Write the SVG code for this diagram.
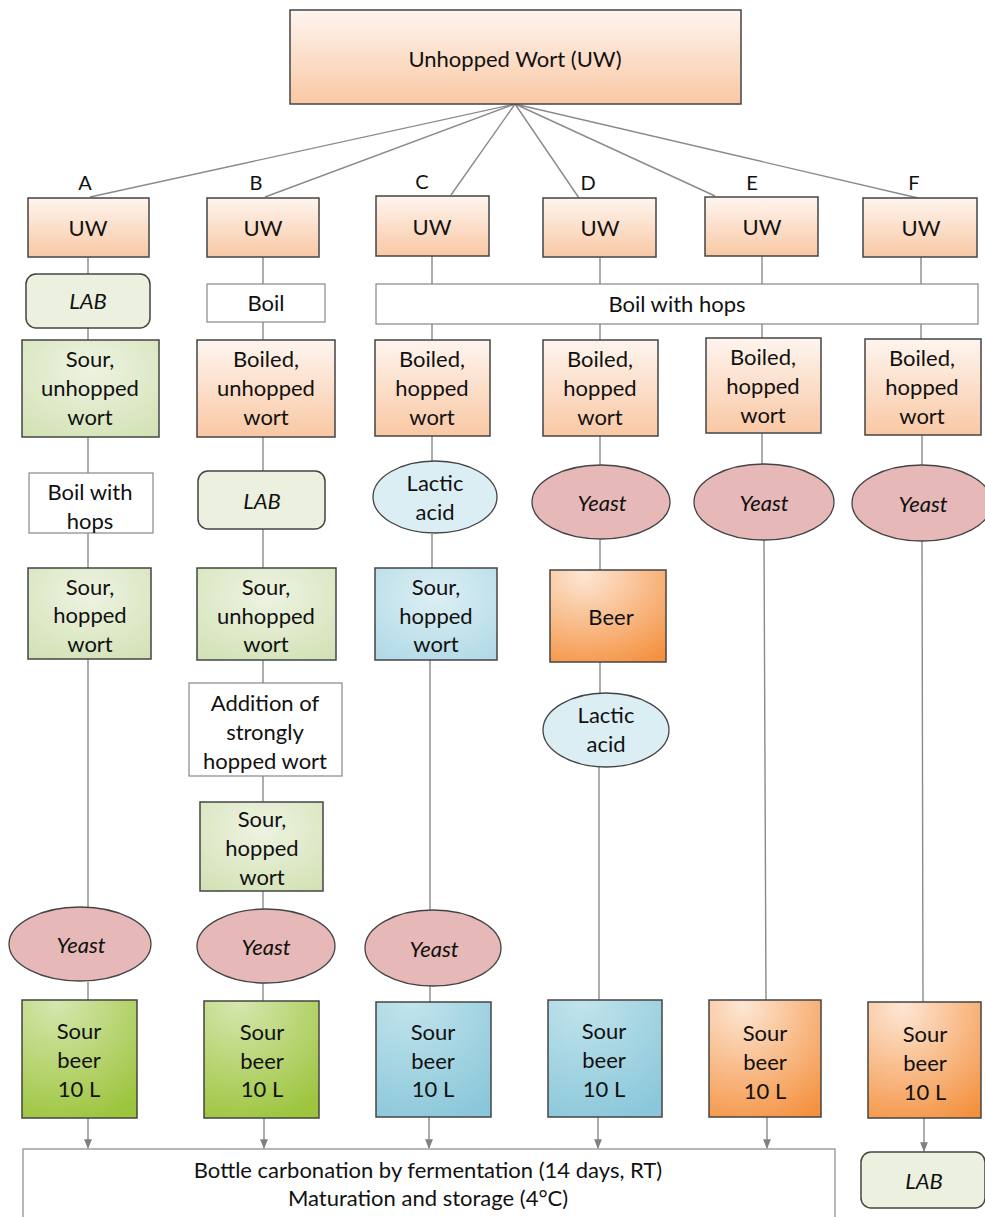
<svg xmlns="http://www.w3.org/2000/svg" width="985" height="1217" viewBox="0 0 985 1217">
<defs>
<linearGradient id="gOr" x1="0" y1="0" x2="0" y2="1"><stop offset="0" stop-color="#fef5ef"/><stop offset="1" stop-color="#f9c8a4"/></linearGradient>
<radialGradient id="gOrS" cx="0.3" cy="0.05" r="1.1"><stop offset="0" stop-color="#fde6d4"/><stop offset="1" stop-color="#f4913f"/></radialGradient>
<radialGradient id="gGrL" cx="0.5" cy="0.3" r="0.8"><stop offset="0" stop-color="#eef3e2"/><stop offset="1" stop-color="#d3e2b6"/></radialGradient>
<radialGradient id="gGrS" cx="0.3" cy="0" r="1.1"><stop offset="0" stop-color="#d6e7b0"/><stop offset="1" stop-color="#9cc43c"/></radialGradient>
<radialGradient id="gBlL" cx="0.5" cy="0.3" r="0.8"><stop offset="0" stop-color="#ddeff4"/><stop offset="1" stop-color="#b1dae6"/></radialGradient>
<radialGradient id="gBlS" cx="0.3" cy="0" r="1.1"><stop offset="0" stop-color="#c2e4ec"/><stop offset="1" stop-color="#8ac7da"/></radialGradient>
<marker id="arr" viewBox="0 0 10 10" refX="9" refY="5" markerWidth="7" markerHeight="7" orient="auto"><path d="M0,1 L10,5 L0,9 z" fill="#808080"/></marker>
<style>
text{font-family:Lato,"Liberation Sans",sans-serif;font-size:22px;fill:#111;text-anchor:middle}
.i{font-style:italic}
.lb{font-size:20px}
.box{stroke:#444;stroke-width:1.5}
.wb{fill:#fff;stroke:#888;stroke-width:1.2}
.or{fill:url(#gOr)}
.ors{fill:url(#gOrS)}
.grl{fill:url(#gGrL)}
.grs{fill:url(#gGrS)}
.bll{fill:url(#gBlL)}
.bls{fill:url(#gBlS)}
.lab{fill:#ebf1de;stroke:#444;stroke-width:1.5}
.ye{fill:#e6b8b7;stroke:#444;stroke-width:1.3}
.la{fill:#dbeef4;stroke:#444;stroke-width:1.3}
.c{stroke:#8a8a8a;stroke-width:1.4;fill:none}
</style>
</defs>
<rect width="985" height="1217" fill="#fff"/>

<g id="connectors">
<path class="c" d="M515,104 L90,197 M515,104 L265,197 M515,104 L451,195 M515,104 L579,198 M515,104 L715,196 M515,104 L918,198"/>
<path class="c" d="M88,257 V274 M88,328 V340 M88,437 V473 M88,533 V568 M88,659 V907 M88,982 V1000"/>
<path class="c" d="M263,257 V284 M263,322 V340 M263,437 V471 M263,529 V568 M263,660 V683 M263,776 V802 M263,891 V909 M263,983 V1001"/>
<path class="c" d="M432,256 V284 M432,324 V340 M432,436 V461 M432,534 V568 M430,660 V911 M430,986 V1002"/>
<path class="c" d="M600,257 V284 M600,324 V340 M600,436 V465 M600,540 V570 M600,662 V693 M599,766 V1000"/>
<path class="c" d="M762,256 V284 M762,324 V338 M762,433 V464 M764,540 L766,1000"/>
<path class="c" d="M921,257 V284 M921,324 V339 M922,435 V465 M922,541 L923,1002"/>
<path class="c" marker-end="url(#arr)" d="M88,1118 V1148"/>
<path class="c" marker-end="url(#arr)" d="M264,1118 V1148"/>
<path class="c" marker-end="url(#arr)" d="M429,1117 V1148"/>
<path class="c" marker-end="url(#arr)" d="M598,1117 V1148"/>
<path class="c" marker-end="url(#arr)" d="M767,1117 V1148"/>
<path class="c" marker-end="url(#arr)" d="M924,1118 V1151"/>
</g>

<g id="top"><rect class="box or" x="290" y="10" width="451" height="94"/><text x="515" y="67">Unhopped Wort (UW)</text></g>

<g id="labels">
<text class="lb" x="85" y="190">A</text><text class="lb" x="256" y="190">B</text><text class="lb" x="422" y="189">C</text>
<text class="lb" x="588" y="190">D</text><text class="lb" x="752" y="190">E</text><text class="lb" x="914" y="190">F</text>
</g>

<g id="uwA"><rect class="box or" x="28" y="198" width="121" height="59"/><text x="88" y="236">UW</text></g>
<g id="uwB"><rect class="box or" x="207" y="198" width="112" height="59"/><text x="263" y="236">UW</text></g>
<g id="uwC"><rect class="box or" x="376" y="196" width="113" height="60"/><text x="432" y="235">UW</text></g>
<g id="uwD"><rect class="box or" x="543" y="198" width="113" height="59"/><text x="600" y="236">UW</text></g>
<g id="uwE"><rect class="box or" x="705" y="197" width="113" height="59"/><text x="762" y="235">UW</text></g>
<g id="uwF"><rect class="box or" x="863" y="198" width="114" height="59"/><text x="921" y="236">UW</text></g>

<g id="labA"><rect class="lab" x="26" y="274" width="124" height="54" rx="10"/><text class="i" x="88" y="309">LAB</text></g>
<g id="boilB"><rect class="wb" x="207" y="284" width="118" height="38"/><text x="266" y="311">Boil</text></g>
<g id="boilHops"><rect class="wb" x="376" y="284" width="602" height="40"/><text x="677" y="312">Boil with hops</text></g>

<g id="sourUnA"><rect class="box grl" x="22" y="340" width="137" height="97"/><text x="90" y="367">Sour,</text><text x="90" y="396">unhopped</text><text x="90" y="425">wort</text></g>
<g id="boiledB"><rect class="box or" x="197" y="340" width="138" height="97"/><text x="266" y="367">Boiled,</text><text x="266" y="396">unhopped</text><text x="266" y="425">wort</text></g>
<g id="boiledC"><rect class="box or" x="375" y="340" width="115" height="96"/><text x="432" y="367">Boiled,</text><text x="432" y="396">hopped</text><text x="432" y="425">wort</text></g>
<g id="boiledD"><rect class="box or" x="543" y="340" width="115" height="96"/><text x="600" y="367">Boiled,</text><text x="600" y="396">hopped</text><text x="600" y="425">wort</text></g>
<g id="boiledE"><rect class="box or" x="706" y="338" width="115" height="95"/><text x="763" y="365">Boiled,</text><text x="763" y="394">hopped</text><text x="763" y="423">wort</text></g>
<g id="boiledF"><rect class="box or" x="865" y="339" width="116" height="96"/><text x="922" y="366">Boiled,</text><text x="922" y="395">hopped</text><text x="922" y="424">wort</text></g>

<g id="boilHopsA"><rect class="wb" x="29" y="473" width="124" height="60"/><text x="90" y="500">Boil with</text><text x="90" y="529">hops</text></g>
<g id="labB"><rect class="lab" x="198" y="471" width="127" height="58" rx="10"/><text class="i" x="262" y="509">LAB</text></g>
<g id="lacticC"><ellipse class="la" cx="435" cy="497" rx="62" ry="36"/><text x="435" y="491">Lactic</text><text x="435" y="520">acid</text></g>
<g id="yeastD"><ellipse class="ye" cx="601" cy="502" rx="69" ry="37"/><text class="i" x="602" y="511">Yeast</text></g>
<g id="yeastE"><ellipse class="ye" cx="764" cy="502" rx="70" ry="38"/><text class="i" x="764" y="511">Yeast</text></g>
<g id="yeastF"><ellipse class="ye" cx="922" cy="503" rx="70" ry="38"/><text class="i" x="923" y="512">Yeast</text></g>

<g id="sourHopA"><rect class="box grl" x="28" y="568" width="123" height="91"/><text x="90" y="595">Sour,</text><text x="90" y="623">hopped</text><text x="90" y="652">wort</text></g>
<g id="sourUnB"><rect class="box grl" x="197" y="568" width="139" height="92"/><text x="266" y="595">Sour,</text><text x="266" y="624">unhopped</text><text x="266" y="652">wort</text></g>
<g id="sourHopC"><rect class="box bll" x="375" y="568" width="122" height="92"/><text x="436" y="595">Sour,</text><text x="436" y="624">hopped</text><text x="436" y="652">wort</text></g>
<g id="beerD"><rect class="box ors" x="550" y="570" width="116" height="92"/><text x="611" y="625">Beer</text></g>

<g id="additionB"><rect class="wb" x="189" y="683" width="153" height="93"/><text x="265" y="711">Addition of</text><text x="265" y="740">strongly</text><text x="265" y="769">hopped wort</text></g>
<g id="lacticD"><ellipse class="la" cx="606" cy="730" rx="63" ry="37"/><text x="606" y="723">Lactic</text><text x="606" y="752">acid</text></g>

<g id="sourHopB"><rect class="box grl" x="200" y="802" width="123" height="89"/><text x="262" y="827">Sour,</text><text x="262" y="856">hopped</text><text x="262" y="885">wort</text></g>

<g id="yeastA"><ellipse class="ye" cx="80" cy="944" rx="71" ry="37"/><text class="i" x="81" y="953">Yeast</text></g>
<g id="yeastB"><ellipse class="ye" cx="266" cy="946" rx="69" ry="37"/><text class="i" x="266" y="955">Yeast</text></g>
<g id="yeastC"><ellipse class="ye" cx="433" cy="948" rx="68" ry="38"/><text class="i" x="434" y="957">Yeast</text></g>

<g id="beerA"><rect class="box grs" x="22" y="1000" width="115" height="118"/><text x="79" y="1039">Sour</text><text x="79" y="1068">beer</text><text x="79" y="1097">10 L</text></g>
<g id="beerB"><rect class="box grs" x="204" y="1001" width="115" height="117"/><text x="262" y="1040">Sour</text><text x="262" y="1069">beer</text><text x="262" y="1097">10 L</text></g>
<g id="beerC"><rect class="box bls" x="376" y="1002" width="115" height="115"/><text x="433" y="1040">Sour</text><text x="433" y="1069">beer</text><text x="433" y="1097">10 L</text></g>
<g id="beerDD"><rect class="box bls" x="548" y="1000" width="114" height="117"/><text x="604" y="1039">Sour</text><text x="604" y="1068">beer</text><text x="604" y="1097">10 L</text></g>
<g id="beerE"><rect class="box ors" x="709" y="1000" width="112" height="117"/><text x="765" y="1041">Sour</text><text x="765" y="1070">beer</text><text x="765" y="1099">10 L</text></g>
<g id="beerF"><rect class="box ors" x="868" y="1002" width="113" height="116"/><text x="925" y="1042">Sour</text><text x="925" y="1071">beer</text><text x="925" y="1100">10 L</text></g>

<g id="bottle"><rect class="wb" x="23" y="1149" width="812" height="80"/><text x="428" y="1178">Bottle carbonation by fermentation (14 days, RT)</text><text x="428" y="1206">Maturation and storage (4°C)</text></g>
<g id="labF"><rect class="lab" x="861" y="1152" width="124" height="56" rx="10"/><text class="i" x="924" y="1189">LAB</text></g>
</svg>
